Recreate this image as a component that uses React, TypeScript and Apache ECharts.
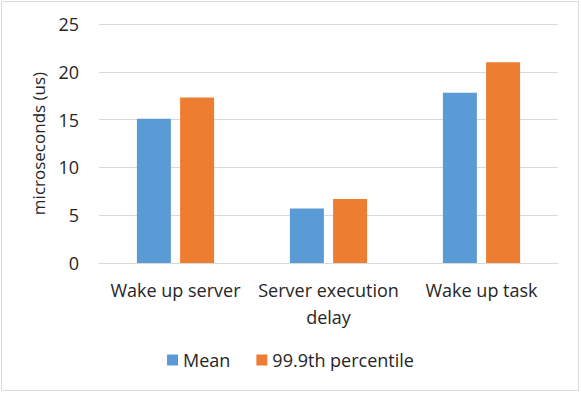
import React, { useEffect, useRef } from "react";
import * as echarts from "echarts";

const categories = ["Wake up server", "Server execution\ndelay", "Wake up task"];
const meanValues = [15.1, 5.7, 17.8];
const p999Values = [17.3, 6.7, 21.0];
const seriesNames = ["Mean", "99.9th percentile"];
const yTicks = { min: 0, max: 25, interval: 5 };

const FONT = "Open Sans";
const TEXT = "#262626";
const FS = 18;

export default function App() {
  const ref = useRef<HTMLDivElement>(null);
  useEffect(() => {
    document.body.style.margin = "0";
    const chart = echarts.init(ref.current!, null, { renderer: "svg" });
    chart.setOption({
      animation: false,
      backgroundColor: "#ffffff",
      textStyle: { fontFamily: FONT, color: TEXT },
      graphic: [
        {
          type: "rect",
          shape: { x: 1.5, y: 1.5, width: 577, height: 389 },
          style: { fill: "none", stroke: "#d9d9d9", lineWidth: 1 },
          silent: true,
        },
      ],
      grid: { left: 99, right: 23, top: 24, bottom: 130 },
      legend: {
        data: seriesNames,
        bottom: 19,
        left: "center",
        icon: "rect",
        itemWidth: 11,
        itemHeight: 11,
        itemGap: 26,
        textStyle: { fontFamily: FONT, fontSize: FS, color: TEXT },
      },
      xAxis: {
        type: "category",
        data: categories,
        axisLine: { lineStyle: { color: "#d9d9d9", width: 1 } },
        axisTick: { show: false },
        axisLabel: {
          fontFamily: FONT,
          fontSize: FS,
          color: TEXT,
          margin: 13,
          lineHeight: 27,
          interval: 0,
        },
      },
      yAxis: {
        type: "value",
        min: yTicks.min,
        max: yTicks.max,
        interval: yTicks.interval,
        name: "microseconds (us)",
        nameLocation: "middle",
        nameRotate: 90,
        nameGap: 52,
        nameTextStyle: { fontFamily: FONT, fontSize: 17, color: TEXT },
        axisLine: { show: false },
        axisTick: { show: false },
        splitLine: { lineStyle: { color: "#d9d9d9", width: 1 } },
        axisLabel: { fontFamily: FONT, fontSize: FS, color: TEXT, margin: 20 },
      },
      series: [
        {
          name: seriesNames[0],
          type: "bar",
          data: meanValues,
          barWidth: 34,
          barGap: "27%",
          itemStyle: { color: "#5B9BD5" },
        },
        {
          name: seriesNames[1],
          type: "bar",
          data: p999Values,
          barWidth: 34,
          itemStyle: { color: "#ED7D31" },
        },
      ],
    });
    return () => chart.dispose();
  }, []);
  return <div ref={ref} style={{ width: 581, height: 393 }} />;
}
